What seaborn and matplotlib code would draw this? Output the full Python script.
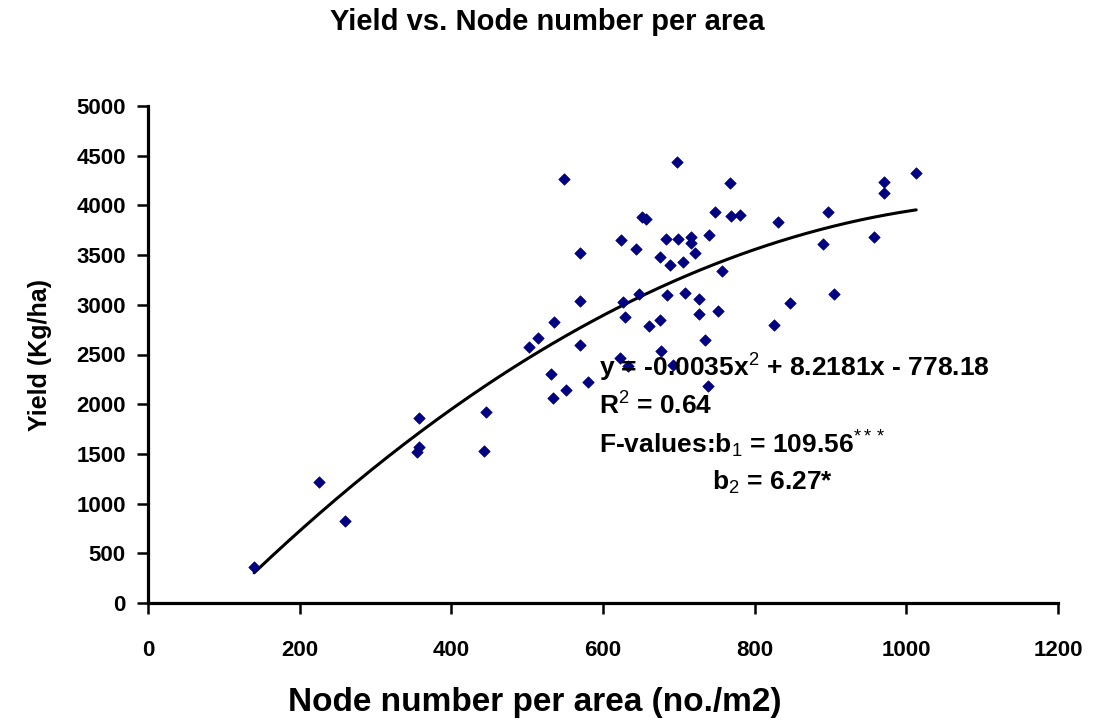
import numpy as np
import pandas as pd
import matplotlib
matplotlib.use("Agg")
import matplotlib.pyplot as plt
import seaborn as sns

# ---- data ----
node_number = [140, 225, 260, 357, 358, 355, 446, 443, 503, 514, 536, 531, 580, 551, 534,
               548, 570, 570, 570, 623, 633, 624, 627, 629, 644, 647, 652, 657, 660, 675,
               675, 677, 683, 684, 688, 692, 698, 699, 706, 708, 716, 716, 721, 726, 727,
               734, 738, 740, 748, 751, 757, 767, 769, 781, 826, 831, 847, 890, 897, 905,
               957, 970, 970, 1013]
yield_kg = [365, 1215, 825, 1860, 1572, 1521, 1921, 1528, 2579, 2667, 2830, 2302, 2227, 2140, 2064,
            4270, 3525, 3041, 2596, 2462, 2385, 3652, 3025, 2874, 3565, 3106, 3880, 3862, 2788, 2847,
            3476, 2538, 3664, 3102, 3398, 2392, 4440, 3664, 3430, 3122, 3678, 3625, 3518, 3058, 2910,
            2646, 2188, 3700, 3933, 2937, 3341, 4222, 3893, 3903, 2797, 3830, 3015, 3609, 3930, 3109,
            3679, 4239, 4128, 4323]
fit_coefs = [-0.0035, 8.2181, -778.18]   # y = a x^2 + b x + c
fit_range = [140, 1013]
x_ticks = [0, 200, 400, 600, 800, 1000, 1200]
y_ticks = [0, 500, 1000, 1500, 2000, 2500, 3000, 3500, 4000, 4500, 5000]

title = "Yield vs. Node number per area"
xlabel = "Node number per area (no./m2)"
ylabel = "Yield (Kg/ha)"

# ---- styling ----
sns.set_style("ticks")
plt.rcParams['font.family'] = ['Liberation Sans', 'DejaVu Sans']
plt.rcParams['mathtext.fontset'] = 'custom'
plt.rcParams['mathtext.rm'] = 'Liberation Sans'
plt.rcParams['mathtext.bf'] = 'Liberation Sans:bold'
plt.rcParams['mathtext.it'] = 'Liberation Sans:italic'
for k in ['text.color', 'axes.labelcolor', 'xtick.color', 'ytick.color', 'axes.edgecolor']:
    plt.rcParams[k] = 'black'

df = pd.DataFrame({"node": node_number, "yield": yield_kg})
xf = np.linspace(fit_range[0], fit_range[1], 200)
fit_df = pd.DataFrame({"node": xf, "yield": np.polyval(fit_coefs, xf)})

fig = plt.figure(figsize=(10.94, 7.21), dpi=100)
ax = fig.add_axes([148/1094, 1 - 603/721, (1058 - 148)/1094, (603 - 106)/721])

sns.scatterplot(data=df, x="node", y="yield", ax=ax, marker="D", s=34,
                color="#000080", edgecolor="#000080", linewidth=0.5, zorder=3)
sns.lineplot(data=fit_df, x="node", y="yield", ax=ax, color="black", linewidth=2.2, zorder=2)

ax.set_xlim(0, 1200)
ax.set_ylim(0, 5000)
ax.set_xticks(x_ticks)
ax.set_yticks(y_ticks)
ax.set_xticklabels([str(t) for t in x_ticks], fontsize=16, fontweight="bold")
ax.set_yticklabels([str(t) for t in y_ticks], fontsize=16, fontweight="bold")
ax.tick_params(axis="x", direction="out", length=8, width=1.8, pad=19)
ax.tick_params(axis="y", direction="out", length=8, width=1.8, pad=8)
for s in ["left", "bottom"]:
    ax.spines[s].set_linewidth(2.3)
for s in ["top", "right"]:
    ax.spines[s].set_visible(False)
ax.set_xlabel("")
ax.set_ylabel("")

fig.text(547/1094, 1 - 22/721, title, ha="center", va="center", fontsize=21, fontweight="bold")
fig.text(535/1094, 1 - 703/721, xlabel, ha="center", va="center", fontsize=24, fontweight="bold")
fig.text(40/1094, 1 - 355/721, ylabel, ha="center", va="center", fontsize=18,
         fontweight="bold", rotation=90)

fs = 19
ax.text(595, 2364, r"y = -0.0035x$^{2}$ + 8.2181x - 778.18", fontsize=fs, fontweight="bold",
        ha="left", va="center")
ax.text(595, 1982, r"R$^{2}$ = 0.64", fontsize=fs, fontweight="bold", ha="left", va="center")
ax.text(595, 1600, r"F-values:b$_{1}$ = 109.56$^{***}$", fontsize=fs, fontweight="bold",
        ha="left", va="center")
ax.text(744, 1217, r"b$_{2}$ = 6.27*", fontsize=fs, fontweight="bold", ha="left", va="center")

fig.savefig("out.png", dpi=100)
